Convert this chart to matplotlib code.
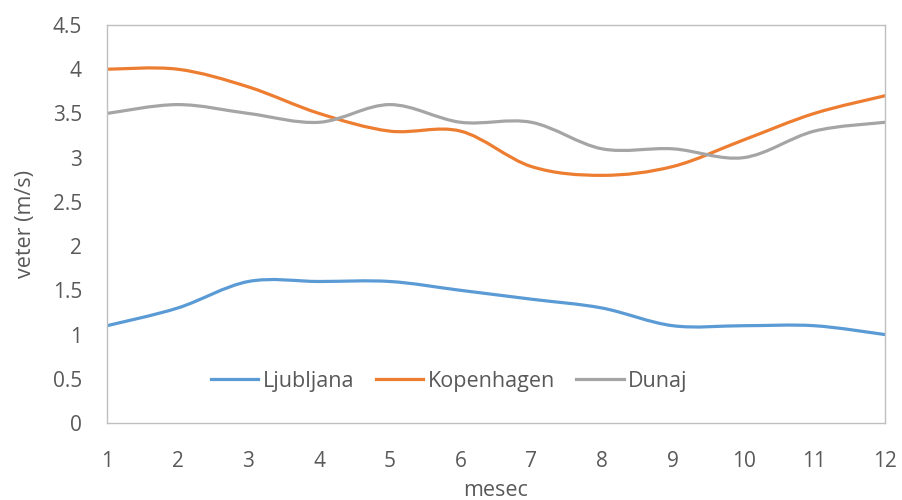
import matplotlib
matplotlib.use("Agg")
import matplotlib.pyplot as plt
from matplotlib.path import Path
from matplotlib.patches import PathPatch
from matplotlib.lines import Line2D

# monthly wind speed data (m/s)
months = [1, 2, 3, 4, 5, 6, 7, 8, 9, 10, 11, 12]
ljubljana = [1.1, 1.3, 1.6, 1.6, 1.6, 1.5, 1.4, 1.3, 1.1, 1.1, 1.1, 1.0]
kopenhagen = [4.0, 4.0, 3.8, 3.5, 3.3, 3.3, 2.9, 2.8, 2.9, 3.2, 3.5, 3.7]
dunaj = [3.5, 3.6, 3.5, 3.4, 3.6, 3.4, 3.4, 3.1, 3.1, 3.0, 3.3, 3.4]
y_ticks = [0, 0.5, 1, 1.5, 2, 2.5, 3, 3.5, 4, 4.5]

plt.rcParams['font.family'] = ['Open Sans', 'DejaVu Sans']
text_col = "#595959"


def smooth_path(xs, ys):
    # Excel-like smoothed line: cubic bezier through every point
    n = len(xs)
    verts = [(xs[0], ys[0])]
    codes = [Path.MOVETO]
    for i in range(n - 1):
        x0, y0 = xs[max(i - 1, 0)], ys[max(i - 1, 0)]
        x1, y1 = xs[i], ys[i]
        x2, y2 = xs[i + 1], ys[i + 1]
        x3, y3 = xs[min(i + 2, n - 1)], ys[min(i + 2, n - 1)]
        c1 = (x1 + (x2 - x0) / 6, y1 + (y2 - y0) / 6)
        c2 = (x2 - (x3 - x1) / 6, y2 - (y3 - y1) / 6)
        verts += [c1, c2, (x2, y2)]
        codes += [Path.CURVE4] * 3
    return Path(verts, codes)


fig = plt.figure(figsize=(9.02, 5.0), dpi=100)
ax = fig.add_axes([0.1186, 0.154, 0.8625, 0.796])

series = [("Ljubljana", ljubljana, "#5B9BD5"),
          ("Kopenhagen", kopenhagen, "#ED7D31"),
          ("Dunaj", dunaj, "#A5A5A5")]
handles = []
for name, vals, col in series:
    ax.add_patch(PathPatch(smooth_path(months, vals), facecolor="none",
                           edgecolor=col, lw=2.3, capstyle="round"))
    handles.append(Line2D([], [], color=col, lw=2.3, label=name))

ax.set_xlim(1, 12)
ax.set_ylim(0, 4.5)
ax.set_xticks(months)
ax.set_yticks(y_ticks)
ax.set_yticklabels([f"{t:g}" for t in y_ticks])
ax.tick_params(length=0, labelsize=15, colors=text_col)
ax.tick_params(axis="y", pad=18)
ax.tick_params(axis="x", pad=20)
for s in ax.spines.values():
    s.set_color("#BFBFBF")
    s.set_linewidth(1.0)

ax.set_xlabel("mesec", fontsize=15.5, color=text_col, labelpad=6)
ax.set_ylabel("veter (m/s)", fontsize=15.5, color=text_col, labelpad=12)

ax.legend(handles=handles, loc="center", bbox_to_anchor=(0.44, 0.105),
          ncol=3, frameon=False, fontsize=15.5, labelcolor=text_col,
          handlelength=2.2, handletextpad=0.2, columnspacing=1.0)

fig.savefig("out.png", dpi=100)
